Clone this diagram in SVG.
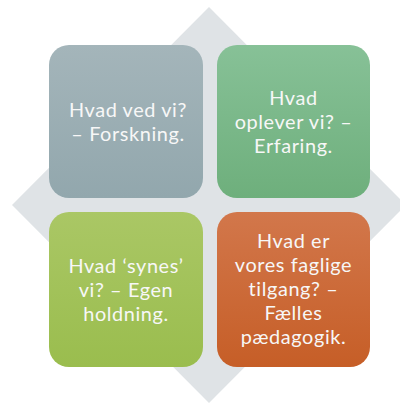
<svg xmlns="http://www.w3.org/2000/svg" width="400" height="403" viewBox="0 0 400 403">
<defs>
<linearGradient id="gGray" x1="0" y1="0" x2="0" y2="1"><stop offset="0" stop-color="#a4b5ba"/><stop offset="1" stop-color="#92a7ad"/></linearGradient>
<linearGradient id="gGreen" x1="0" y1="0" x2="0" y2="1"><stop offset="0" stop-color="#87c197"/><stop offset="1" stop-color="#6eaf7c"/></linearGradient>
<linearGradient id="gLime" x1="0" y1="0" x2="0" y2="1"><stop offset="0" stop-color="#aac765"/><stop offset="1" stop-color="#9abd4e"/></linearGradient>
<linearGradient id="gOrange" x1="0" y1="0" x2="0" y2="1"><stop offset="0" stop-color="#d2774b"/><stop offset="1" stop-color="#c65e27"/></linearGradient>
</defs>
<style>
.box{stroke:none}
.t{font-family:Lato,"Open Sans","Liberation Sans",sans-serif;font-size:19.9px;letter-spacing:0.6px;fill:#f7f7f7;text-anchor:middle}
</style>
<rect width="400" height="403" fill="#ffffff"/>
<polygon id="diamond" points="209,7 406,205 209,403 12,205" fill="#dfe3e6"/>
<g id="connectors"/>
<g id="node-research">
<rect class="box" x="49" y="45" width="154" height="153" rx="20" fill="url(#gGray)"/>
<text class="t" x="128" y="117">Hvad ved vi?</text>
<text class="t" x="128" y="141">– Forskning.</text>
</g>
<g id="node-experience">
<rect class="box" x="217" y="45" width="153" height="153" rx="20" fill="url(#gGreen)"/>
<text class="t" x="293.5" y="105">Hvad</text>
<text class="t" x="293.5" y="129">oplever vi? –</text>
<text class="t" x="293.5" y="153">Erfaring.</text>
</g>
<g id="node-attitude">
<rect class="box" x="49" y="212" width="154" height="155" rx="20" fill="url(#gLime)"/>
<text class="t" x="126" y="273">Hvad ‘synes’</text>
<text class="t" x="126" y="297">vi? – Egen</text>
<text class="t" x="126" y="321">holdning.</text>
</g>
<g id="node-pedagogy">
<rect class="box" x="217" y="212" width="153" height="155" rx="20" fill="url(#gOrange)"/>
<text class="t" x="293.5" y="248">Hvad er</text>
<text class="t" x="293.5" y="272">vores faglige</text>
<text class="t" x="293.5" y="296">tilgang? –</text>
<text class="t" x="293.5" y="320">Fælles</text>
<text class="t" x="293.5" y="344">pædagogik.</text>
</g>
</svg>
